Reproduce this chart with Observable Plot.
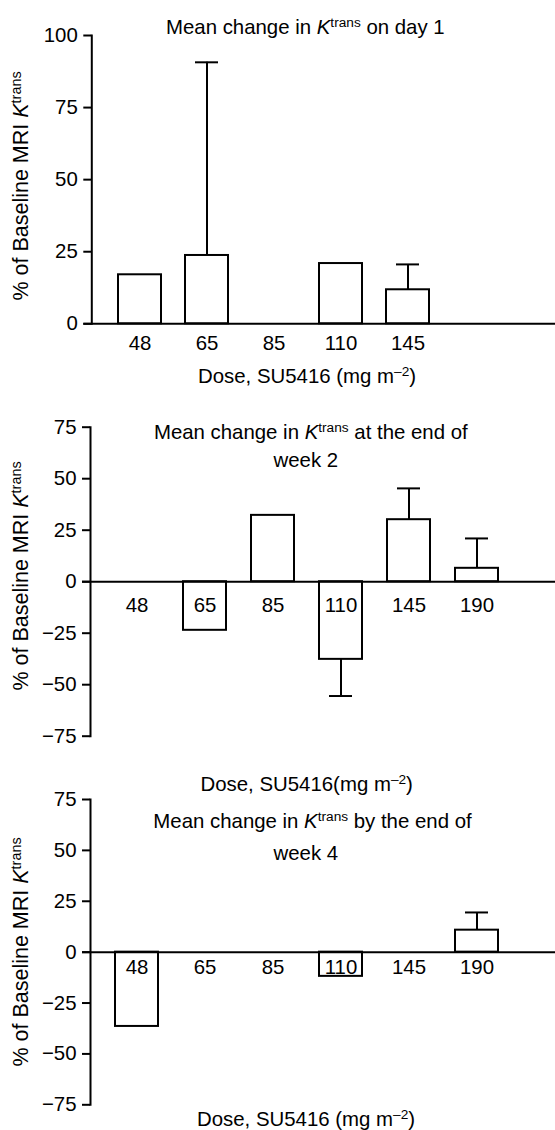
<!DOCTYPE html>
<html><head><meta charset="utf-8">
<script src="https://cdn.jsdelivr.net/npm/d3@7"></script>
<script src="https://cdn.jsdelivr.net/npm/@observablehq/plot@0.6"></script>
<style>
body{margin:0;background:#fff;}
#wrap{position:relative;width:555px;height:1130px;font-family:"Liberation Sans",Arial,Helvetica,sans-serif;color:#000;overflow:hidden;}
.panel{position:absolute;left:0;}
.lbl{position:absolute;white-space:nowrap;font-size:20.4px;line-height:1;transform:translate(-50%,-50%);}
.ylab{position:absolute;white-space:nowrap;font-size:21.5px;line-height:1;transform:translate(-50%,-50%) rotate(-90deg);}
.sup{font-size:0.67em;vertical-align:0.5em;line-height:0;}
</style></head>
<body><div id="wrap"></div>
<script>
// categories
const doses = ["48", "65", "85", "110", "145", "190"];

// Panel 1: day 1
const day1Values = [17.0, 23.7, null, 20.9, 11.8, null];
const day1Errors = [null, 90.7, null, null, 20.6, null];
const day1Labels = ["48", "65", "85", "110", "145"];
const day1Ticks = [0, 25, 50, 75, 100];

// Panel 2: end of week 2
const week2Values = [null, -23.6, 32.2, -37.7, 30.1, 6.5];
const week2Errors = [null, null, null, -55.5, 45.3, 21.0];
const week2Labels = ["48", "65", "85", "110", "145", "190"];

// Panel 3: end of week 4
const week4Values = [-36.5, null, null, -11.9, null, 10.8];
const week4Errors = [null, null, null, null, null, 19.5];
const week4Labels = ["48", "65", "85", "110", "145", "190"];

const weekTicks = [-75, -50, -25, 0, 25, 50, 75];

const wrap = document.getElementById("wrap");

function rows(values, errors) {
  return doses.map((d, i) => ({dose: d, value: values[i], err: errors[i]}))
    .filter(r => r.value != null);
}

function makePanel(values, errors, labels, ticks, cfg) {
  const data = rows(values, errors);
  const errData = data.filter(r => r.err != null);
  const chart = Plot.plot({
    width: 555,
    height: cfg.height,
    marginTop: cfg.mt,
    marginBottom: cfg.mb,
    marginLeft: cfg.ml,
    marginRight: cfg.mr,
    style: {fontFamily: '"Liberation Sans", Arial, Helvetica, sans-serif', fontSize: "20px", color: "black", background: "transparent", overflow: "visible"},
    x: {type: "band", domain: doses, paddingInner: 0.365, paddingOuter: 0.357, axis: null},
    y: {domain: [ticks[0], ticks[ticks.length - 1]], axis: null},
    marks: [
      Plot.barY(data, {x: "dose", y: "value", fill: "white", stroke: "black", strokeWidth: 2}),
      Plot.ruleX(errData, {x: "dose", y1: "value", y2: "err", stroke: "black", strokeWidth: 2}),
      Plot.tickY(errData, {x: "dose", y: "err", stroke: "black", strokeWidth: 2, insetLeft: 10, insetRight: 10}),
      Plot.ruleY([0], {stroke: "black", strokeWidth: 2, insetLeft: -8, insetRight: -cfg.mr}),
      Plot.axisY({ticks: ticks, tickSize: 8, tickPadding: 6, strokeWidth: 2, label: null, fontSize: 20.4}),
      Plot.frame({anchor: "left", stroke: "black", strokeWidth: 2}),
      Plot.text(labels, {x: d => d, y: 0, dy: cfg.labelDy, fontSize: 20.4, fill: "black"})
    ]
  });
  const div = document.createElement("div");
  div.className = "panel";
  div.style.top = cfg.top + "px";
  div.appendChild(chart);
  wrap.appendChild(div);
}

makePanel(day1Values, day1Errors, day1Labels, day1Ticks,
  {top: 0, height: 360, mt: 35, mb: 36.7, ml: 91.3, mr: 32.3, labelDy: 20});
makePanel(week2Values, week2Errors, week2Labels, weekTicks,
  {top: 390, height: 370, mt: 36.7, mb: 24.3, ml: 90, mr: 32.3, labelDy: 23.7});
makePanel(week4Values, week4Errors, week4Labels, weekTicks,
  {top: 770, height: 350, mt: 29, mb: 15.7, ml: 90, mr: 32.3, labelDy: 15});

const K = '<i>K</i><span class="sup">trans</span>';
const unit = 'mg m<span class="sup">–2</span>';
const texts = [
  {cls: "lbl", x: 305.3, y: 26.5, html: "Mean change in " + K + " on day 1"},
  {cls: "lbl", x: 307, y: 376, html: "Dose, SU5416 (" + unit + ")"},
  {cls: "lbl", x: 310.8, y: 432, html: "Mean change in " + K + " at the end of"},
  {cls: "lbl", x: 305.8, y: 459.7, html: "week 2"},
  {cls: "lbl", x: 306.7, y: 783.7, html: "Dose, SU5416(" + unit + ")"},
  {cls: "lbl", x: 312.5, y: 821.2, html: "Mean change in " + K + " by the end of"},
  {cls: "lbl", x: 305.8, y: 852.7, html: "week 4"},
  {cls: "lbl", x: 306, y: 1118.8, html: "Dose, SU5416 (" + unit + ")"},
  {cls: "ylab", x: 22, y: 186, html: "% of Baseline MRI " + K},
  {cls: "ylab", x: 22, y: 575.5, html: "% of Baseline MRI " + K},
  {cls: "ylab", x: 22, y: 951.5, html: "% of Baseline MRI " + K}
];
for (const t of texts) {
  const el = document.createElement("div");
  el.className = t.cls;
  el.style.left = t.x + "px";
  el.style.top = t.y + "px";
  el.innerHTML = t.html;
  wrap.appendChild(el);
}
</script>
</body></html>
